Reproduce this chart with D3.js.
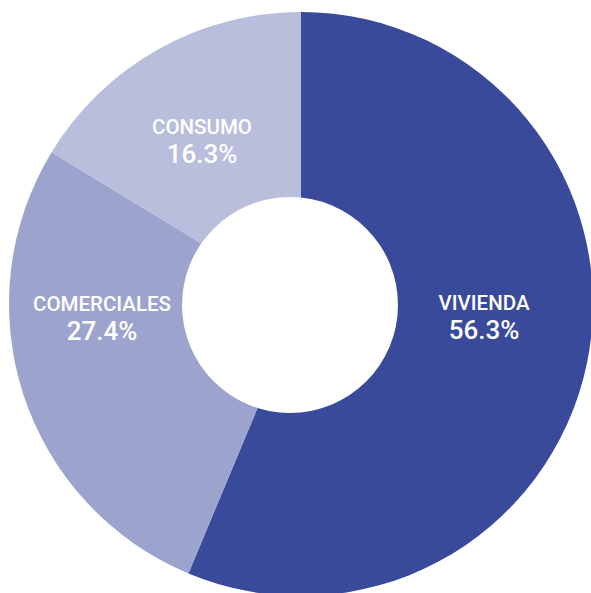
<!DOCTYPE html>
<html>
<head>
<meta charset="utf-8">
<script src="https://cdn.jsdelivr.net/npm/d3@7"></script>
<style>
  html, body { margin: 0; padding: 0; background: #ffffff; }
  svg { display: block; }
</style>
</head>
<body>
<svg id="chart" width="591" height="593"></svg>
<script>
const categories = ["VIVIENDA", "COMERCIALES", "CONSUMO"];
const values = [56.3, 27.4, 16.3];
const labels = ["56.3%", "27.4%", "16.3%"];
const colors = ["#3a4a9b", "#9ca4cd", "#b8bedb"];

const W = 591, H = 593;
const cx = 301, cy = 304, outerR = 292;
const hole = { x: 290, y: 305, r: 108 };
// label anchor points (baseline of first line, centre x), by category index
const labelPos = [
  { x: 484, y: 309.5 },
  { x: 102, y: 310.5 },
  { x: 202, y: 133.5 }
];

const svg = d3.select("#chart");
const data = categories.map((c, i) => ({ cat: c, value: values[i], label: labels[i], color: colors[i], i }));

const pie = d3.pie().sort(null).value(d => d.value).startAngle(0).endAngle(2 * Math.PI);
const arc = d3.arc().innerRadius(0).outerRadius(outerR);

const g = svg.append("g").attr("transform", `translate(${cx},${cy})`);
g.selectAll("path.slice")
  .data(pie(data))
  .join("path")
  .attr("class", "slice")
  .attr("d", arc)
  .attr("fill", d => d.data.color);

svg.append("circle")
  .attr("cx", hole.x).attr("cy", hole.y).attr("r", hole.r)
  .attr("fill", "#ffffff");

const lab = svg.selectAll("g.lab")
  .data(data)
  .join("g")
  .attr("class", "lab")
  .attr("fill", "#ffffff")
  .attr("font-family", "Roboto, 'Open Sans', sans-serif")
  .attr("font-weight", 500)
  .attr("text-anchor", "middle");

lab.append("text")
  .attr("x", d => labelPos[d.i].x)
  .attr("y", d => labelPos[d.i].y)
  .attr("font-size", 20.5)
  .text(d => d.cat);

lab.append("text")
  .attr("x", d => labelPos[d.i].x)
  .attr("y", d => labelPos[d.i].y + 29.5)
  .attr("font-size", 26)
  .text(d => d.label);
</script>
</body>
</html>
